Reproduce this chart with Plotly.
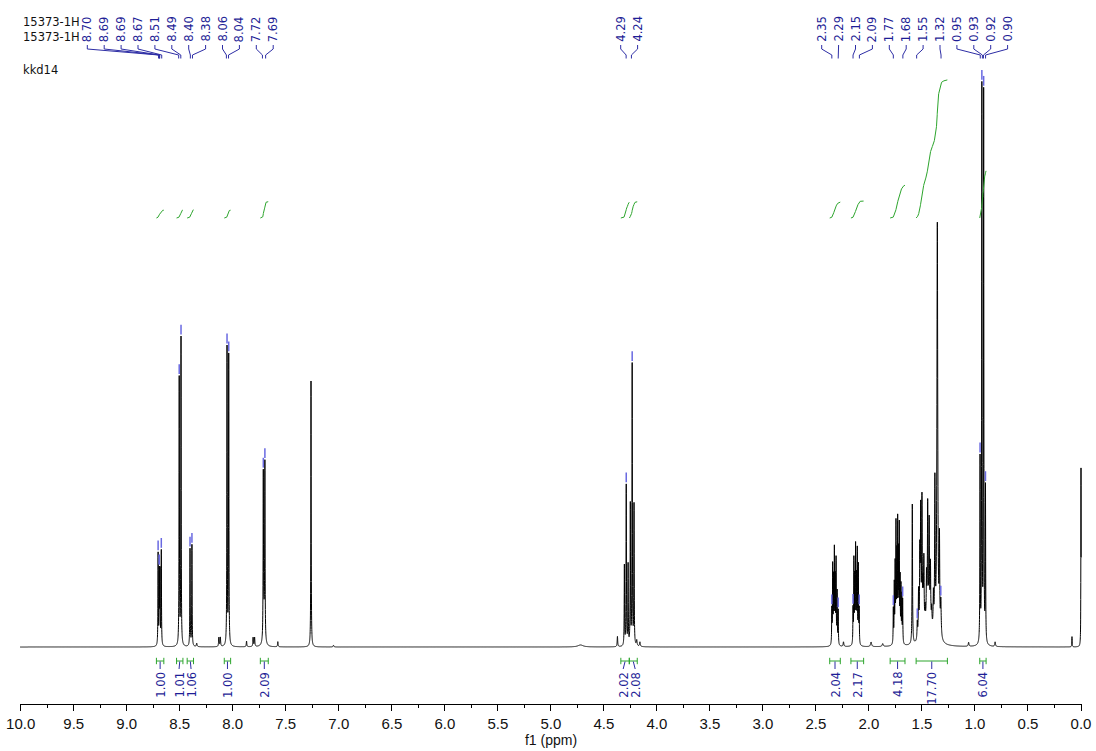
import numpy as np
import plotly.graph_objects as go

# ------------------------------------------------------------------
# DATA
# ------------------------------------------------------------------
# Spectrum lines: chemical shift (ppm), relative height (tallest = ~100), half width (ppm)
AROMATIC_PPM = [8.704, 8.693, 8.686, 8.674, 8.505, 8.488, 8.403, 8.385,
                8.054, 8.038, 7.712, 7.697, 7.705]
AROMATIC_HEIGHT = [16.0, 12.5, 12.5, 16.5, 46.7, 53.7, 17.0, 17.7,
                   52.0, 50.6, 28.0, 30.0, 4.5]
AROMATIC_HWHM = [0.002] * 12 + [0.008]

MINOR_PPM = [8.131, 8.117, 8.34, 7.870, 7.808, 7.794, 7.575, 7.262, 7.05,
             4.72, 4.372, 4.19, 4.16, 2.24, 1.98, 1.87, 1.06, 0.81, 0.085, 0.000]
MINOR_HEIGHT = [1.6, 1.6, 0.6, 1.0, 1.6, 1.6, 0.9, 46.5, 0.3,
                0.35, 1.8, 1.0, 0.8, 0.8, 0.8, 0.5, 0.7, 0.8, 1.8, 31.3]
MINOR_HWHM = [0.003, 0.003, 0.004, 0.003, 0.003, 0.003, 0.003, 0.002, 0.004,
              0.03, 0.003, 0.004, 0.004, 0.004, 0.006, 0.006, 0.004, 0.004, 0.002, 0.0015]

OCH2_PPM = [4.3065, 4.289, 4.2715, 4.2505, 4.233, 4.2155]
OCH2_HEIGHT = [14.0, 28.0, 14.0, 24.5, 49.0, 24.5]
OCH2_HWHM = [0.002] * 6

ALIPH_PPM = [2.350, 2.342, 2.334, 2.326, 2.318, 2.310, 2.300, 2.290,
             2.150, 2.142, 2.134, 2.126, 2.118, 2.110, 2.100, 2.092,
             1.770, 1.761, 1.753, 1.745, 1.737, 1.729, 1.721, 1.714, 1.706, 1.698, 1.690, 1.682,
             1.591,
             1.544, 1.532, 1.520, 1.512, 1.500, 1.490, 1.482, 1.470, 1.457, 1.446, 1.432, 1.420, 1.408, 1.392,
             1.378, 1.355, 1.335, 1.322, 1.440,
             0.952, 0.935, 0.918, 0.901]
ALIPH_HEIGHT = [6.0, 13.5, 11.0, 16.0, 11.0, 14.5, 9.0, 6.0,
                6.0, 14.5, 11.0, 16.5, 11.0, 16.0, 13.5, 6.0,
                6.0, 10.0, 13.0, 20.0, 14.5, 20.5, 14.5, 19.5, 10.5, 9.5, 8.0, 7.5,
                24.5,
                3.0, 8.0, 14.0, 21.0, 23.0, 7.0, 12.0, 3.0, 8.0, 20.0, 17.0, 10.0, 3.0, 6.0,
                26.0, 72.5, 16.0, 6.0, 4.0,
                32.0, 97.0, 96.0, 27.0]
ALIPH_HWHM = ([0.002] * 16 + [0.002] * 12 + [0.0025] + [0.003] * 14
              + [0.003, 0.0045, 0.003, 0.004, 0.04] + [0.002] * 4)

# Integrals: region start / end (ppm) and value
INT_FROM = [8.72, 8.53, 8.43, 8.08, 7.74, 4.34, 4.26, 2.37, 2.17, 1.80, 1.555, 0.955]
INT_TO = [8.65, 8.47, 8.37, 8.02, 7.665, 4.26, 4.185, 2.27, 2.05, 1.66, 1.26, 0.895]
INT_VALUE = [1.00, 1.01, 1.06, 1.00, 2.09, 2.02, 2.08, 2.04, 2.17, 4.18, 17.70, 6.04]

# Peak picks (labels at the top)
PICK_PPM = [8.70, 8.69, 8.69, 8.67, 8.51, 8.49, 8.40, 8.38, 8.06, 8.04, 7.72, 7.69,
            4.29, 4.24,
            2.35, 2.29, 2.15, 2.09, 1.77, 1.68, 1.55, 1.32, 0.95, 0.93, 0.92, 0.90]
PICK_GROUPS = [(0, 12), (12, 14), (14, 26)]

TITLE_LINES = ["15373-1H", "15373-1H", "kkd14"]
X_TITLE = "f1 (ppm)"

# ------------------------------------------------------------------
# LAYOUT CONSTANTS (pixels of the 1096x751 page)
# ------------------------------------------------------------------
W, H = 1096, 751
ML, MR, MT, MB = 20, 14, 0, 47
PX_PER_PPM = 106.03
PPM_AT_LEFT = 10.0 + 0.7 / PX_PER_PPM
PPM_AT_RIGHT = PPM_AT_LEFT - (W - ML - MR) / PX_PER_PPM
BASE_PX = 647.0          # baseline row
UNIT_PX = 5.72           # pixels per intensity unit
PLOT_BOTTOM = H - MB
Y_MIN = (BASE_PX - PLOT_BOTTOM) / UNIT_PX
Y_MAX = (BASE_PX - MT) / UNIT_PX

BLUE = "rgb(30,30,150)"
BLUE_LINE = "rgb(45,45,165)"
MARK_BLUE = "rgb(105,105,225)"
GREEN = "rgb(45,165,45)"
FONT = "DejaVu Sans"


def ppm_of(px):
    return PPM_AT_LEFT - (px - ML) / PX_PER_PPM


def px_of(ppm):
    return ML + (PPM_AT_LEFT - ppm) * PX_PER_PPM


def val_of(py):
    return (BASE_PX - py) / UNIT_PX


# ------------------------------------------------------------------
# SPECTRUM
# ------------------------------------------------------------------
centers = np.array(AROMATIC_PPM + MINOR_PPM + OCH2_PPM + ALIPH_PPM)
heights = np.array(AROMATIC_HEIGHT + MINOR_HEIGHT + OCH2_HEIGHT + ALIPH_HEIGHT)
widths = np.array(AROMATIC_HWHM + MINOR_HWHM + OCH2_HWHM + ALIPH_HWHM)

x = np.arange(10.006, -0.0016, -0.0005)
x = np.unique(np.concatenate([x, centers[centers > -0.0016]]))[::-1]
y = np.zeros_like(x)
for c, h, g in zip(centers, heights, widths):
    y += h * g * g / ((x - c) ** 2 + g * g)

fig = go.Figure()
fig.add_trace(go.Scatter(x=x, y=y, mode="lines",
                         line=dict(color="black", width=1, simplify=False),
                         hoverinfo="skip", showlegend=False))

# ------------------------------------------------------------------
# INTEGRALS (curves, brackets, values)
# ------------------------------------------------------------------
INT_BASE = val_of(218)
INT_PER_H = 7.8 / UNIT_PX
cx, cy = [], []
bx, by = [], []
for a, b, v in zip(INT_FROM, INT_TO, INT_VALUE):
    m = (x <= a) & (x >= b)
    xs, ys = x[m], y[m]
    cum = np.concatenate([[0.0], np.cumsum((ys[1:] + ys[:-1]) / 2 * np.abs(np.diff(xs)))])
    curve = INT_BASE + v * INT_PER_H * cum / cum[-1]
    cx += list(xs) + [None]
    cy += list(curve) + [None]
    yb = val_of(661)
    cap = 3.2 / UNIT_PX
    bx += [a, b, None, a, a, None, b, b, None]
    by += [yb, yb, None, yb - cap, yb + cap, None, yb - cap, yb + cap, None]

fig.add_trace(go.Scatter(x=cx, y=cy, mode="lines", line=dict(color=GREEN, width=1),
                         hoverinfo="skip", showlegend=False))
fig.add_trace(go.Scatter(x=bx, y=by, mode="lines", line=dict(color=GREEN, width=1),
                         hoverinfo="skip", showlegend=False))

# integral value labels, pushed apart so they do not overlap
centers_px = [px_of((a + b) / 2) for a, b in zip(INT_FROM, INT_TO)]
lab_px = list(centers_px)
for _ in range(50):
    for i in range(len(lab_px) - 1):
        gap = lab_px[i + 1] - lab_px[i]
        if gap < 12:
            d = (12 - gap) / 2
            lab_px[i] -= d
            lab_px[i + 1] += d
sx, sy = [], []
annotations = []
for cpx, lpx, v in zip(centers_px, lab_px, INT_VALUE):
    sx += [ppm_of(cpx), ppm_of(lpx), None]
    sy += [val_of(661.5), val_of(669), None]
    annotations.append(dict(x=ppm_of(lpx), y=val_of(670.5), xref="x", yref="y",
                            text=f"{v:.2f}", showarrow=False, textangle=-90,
                            xanchor="center", yanchor="top", borderpad=0,
                            font=dict(family=FONT, size=11.5, color=BLUE)))
fig.add_trace(go.Scatter(x=sx, y=sy, mode="lines", line=dict(color=BLUE_LINE, width=1),
                         hoverinfo="skip", showlegend=False))

# ------------------------------------------------------------------
# PEAK PICKS (markers, labels, connectors)
# ------------------------------------------------------------------
loc = np.where((y[1:-1] > y[:-2]) & (y[1:-1] >= y[2:]))[0] + 1
mx, my = [], []
for p in PICK_PPM:
    j = loc[np.argmin(np.abs(x[loc] - p))]
    mx.append(x[j])
    my.append(y[j] + 6.5 / UNIT_PX)
fig.add_trace(go.Scatter(x=mx, y=my, mode="markers",
                         marker=dict(symbol="line-ns", size=7,
                                     line=dict(color=MARK_BLUE, width=1.5)),
                         hoverinfo="skip", showlegend=False))

GROUP_FIRST_PX = [87.3, 620.7, 821.7]
LABEL_STEP = 16.9
kx, ky = [], []
for (s, e), first in zip(PICK_GROUPS, GROUP_FIRST_PX):
    for k, i in enumerate(range(s, e)):
        lpx = first + k * LABEL_STEP
        ppx = px_of(PICK_PPM[i])
        kx += [ppm_of(lpx), ppm_of(lpx), ppm_of(ppx), ppm_of(ppx), None]
        ky += [val_of(45), val_of(49), val_of(55), val_of(58.5), None]
        annotations.append(dict(x=ppm_of(lpx), y=val_of(43), xref="x", yref="y",
                                text=f"{PICK_PPM[i]:.2f}", showarrow=False, textangle=-90,
                                xanchor="center", yanchor="bottom", borderpad=0,
                                font=dict(family=FONT, size=11.5, color=BLUE)))
fig.add_trace(go.Scatter(x=kx, y=ky, mode="lines", line=dict(color=BLUE_LINE, width=1),
                         hoverinfo="skip", showlegend=False))

# header texts
for txt, ypx in zip(TITLE_LINES, [22, 37, 70]):
    annotations.append(dict(x=ppm_of(22), y=val_of(ypx), xref="x", yref="y",
                            text=txt, showarrow=False, xanchor="left", yanchor="middle",
                            borderpad=0, font=dict(family=FONT, size=11.5, color="#111")))

fig.update_layout(
    width=W, height=H,
    margin=dict(l=ML, r=MR, t=MT, b=MB, autoexpand=False),
    paper_bgcolor="white", plot_bgcolor="white",
    template="none",
    showlegend=False,
    annotations=annotations,
    xaxis=dict(range=[PPM_AT_LEFT, PPM_AT_RIGHT], tick0=0, dtick=0.5, tickformat=".1f",
               automargin=False,
               ticks="outside", ticklen=6, tickwidth=1, tickcolor="black",
               showline=True, linecolor="black", linewidth=1,
               showgrid=False, zeroline=False,
               minor=dict(dtick=0.25, tick0=0, ticks="outside", ticklen=3,
                          tickcolor="black", tickwidth=1, showgrid=False),
               tickfont=dict(family="Liberation Sans", size=15, color="#111"),
               title=dict(text=X_TITLE, standoff=3,
                          font=dict(family="Liberation Sans", size=14, color="#111"))),
    yaxis=dict(range=[Y_MIN, Y_MAX], visible=False, showgrid=False, zeroline=False,
               automargin=False),
)

fig.write_html("out.html", config={"displayModeBar": False},
               post_script="document.body.style.margin='0';"
                           "document.body.style.overflow='hidden';")
